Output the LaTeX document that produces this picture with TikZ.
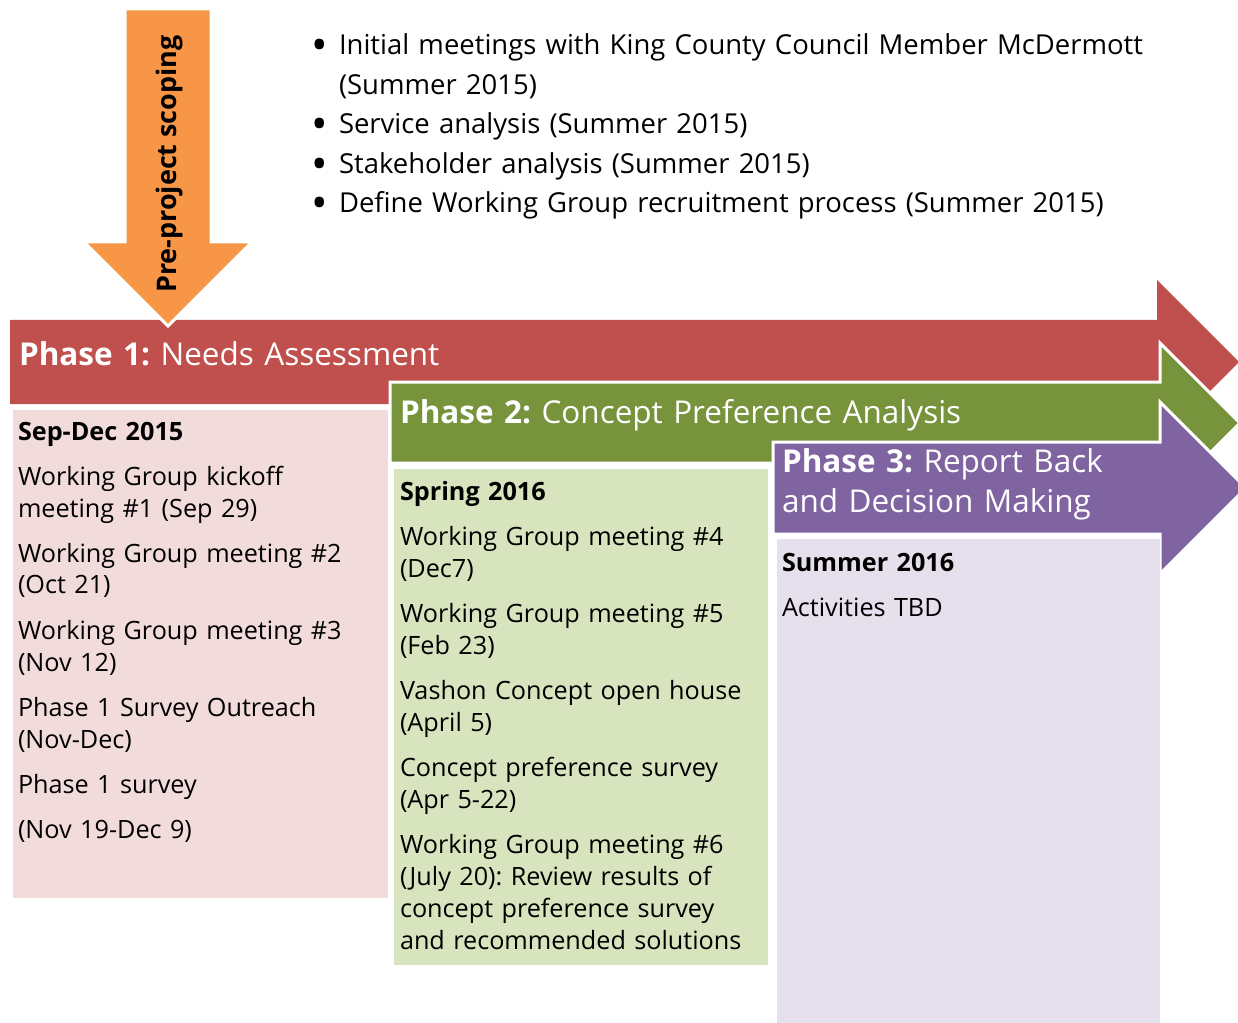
\documentclass[tikz,border=0pt]{standalone}
\usepackage{fontspec}
\setmainfont{Open Sans}
\usepackage{tikz}
\usetikzlibrary{positioning}
\definecolor{porange}{HTML}{F79646}
\definecolor{pred}{HTML}{C0504D}
\definecolor{pgreen}{HTML}{77933C}
\definecolor{ppurple}{HTML}{8064A2}
\definecolor{lred}{HTML}{F2DCDB}
\definecolor{lgreen}{HTML}{D7E4BD}
\definecolor{lpurple}{HTML}{E5E0EC}
\newcommand{\bulitem}{\leavevmode\llap{\smash{\raisebox{-4.5pt}{\scalebox{1.6}{\textbullet}}}\hspace{8pt}}}
\frenchspacing

\begin{document}
\begin{tikzpicture}[
  x=0.75pt,y=-0.75pt,
  every node/.style={inner sep=0pt,outer sep=0pt},
  band/.style={draw=white,line width=2.25pt,line join=miter},
  panel/.style={draw=white,line width=0.75pt},
  head/.style={anchor=base west,text=white,text width=600pt,align=left,font=\fontsize{23.6}{30}\selectfont},
  body/.style={anchor=base west,text width=275pt,align=left,font=\fontsize{18.9}{24}\selectfont},
  bul/.style={anchor=base west,text width=690pt,align=left,font=\fontsize{20.6}{29.6}\selectfont}
]
\clip (0,0) rectangle (1238,1023);

% phase arrows, back to front
\fill[pred] (10,320) -- (1157,320) -- (1157,280) -- (1239,362) -- (1157,444)
  -- (1157,404) -- (10,404) -- cycle;
\filldraw[band,fill=pgreen] (390,382) -- (1160,382) -- (1160,343) -- (1240,423)
  -- (1160,503) -- (1160,463) -- (390,463) -- cycle;
\filldraw[band,fill=ppurple] (773,442) -- (1160,442) -- (1160,402) -- (1246,488)
  -- (1160,574) -- (1160,534) -- (773,534) -- cycle;

% pre-project arrow
\filldraw[band,fill=porange] (125,9) -- (211,9) -- (211,242) -- (252,242)
  -- (168,326) -- (84,242) -- (125,242) -- cycle;
\node[rotate=90,font=\bfseries\fontsize{20.2}{24}\selectfont] (scoping) at (170,164) {Pre-project scoping};

% panels
\filldraw[panel,fill=lred] (12,409) rectangle (388,898);
\filldraw[panel,fill=lgreen] (393,468) rectangle (768,965);
\filldraw[panel,fill=lpurple] (776,538) rectangle (1160,1030);

% headers
\node[head] (ph1) at (19,365) {\textbf{Phase 1:} Needs Assessment};
\node[head] (ph2) at (400,423) {\textbf{Phase 2:} Concept Preference Analysis};
\node[head] (ph3) at (782,472) {\textbf{Phase 3:} Report Back\\and Decision Making};

% scoping tasks
\node[bul] (tasks) at (339,55) {%
  \bulitem Initial meetings with King County Council Member McDermott\\
  (Summer 2015)\\
  \bulitem Service analysis (Summer 2015)\\
  \bulitem Stakeholder analysis (Summer 2015)\\
  \bulitem Define Working Group recruitment process (Summer 2015)};

% phase contents
\node[body] (sched1) at (18,440) {\textbf{Sep-Dec 2015}\\[9.75pt]
  Working Group kickoff\\meeting \#1 (Sep 29)\\[9.75pt]
  Working Group meeting \#2\\(Oct 21)\\[9.75pt]
  Working Group meeting \#3\\(Nov 12)\\[9.75pt]
  Phase 1 Survey Outreach\\(Nov-Dec)\\[9.75pt]
  Phase 1 survey\\[9.75pt]
  (Nov 19-Dec 9)};
\node[body] (sched2) at (400,500) {\textbf{Spring 2016}\\[9.75pt]
  Working Group meeting \#4\\(Dec7)\\[9.75pt]
  Working Group meeting \#5\\(Feb 23)\\[9.75pt]
  Vashon Concept open house\\(April 5)\\[9.75pt]
  Concept preference survey\\(Apr 5-22)\\[9.75pt]
  Working Group meeting \#6\\(July 20): Review results of\\concept preference survey\\and recommended solutions};
\node[body] (sched3) at (782,571) {\textbf{Summer 2016}\\[9.75pt]
  Activities TBD};
\end{tikzpicture}
\end{document}
